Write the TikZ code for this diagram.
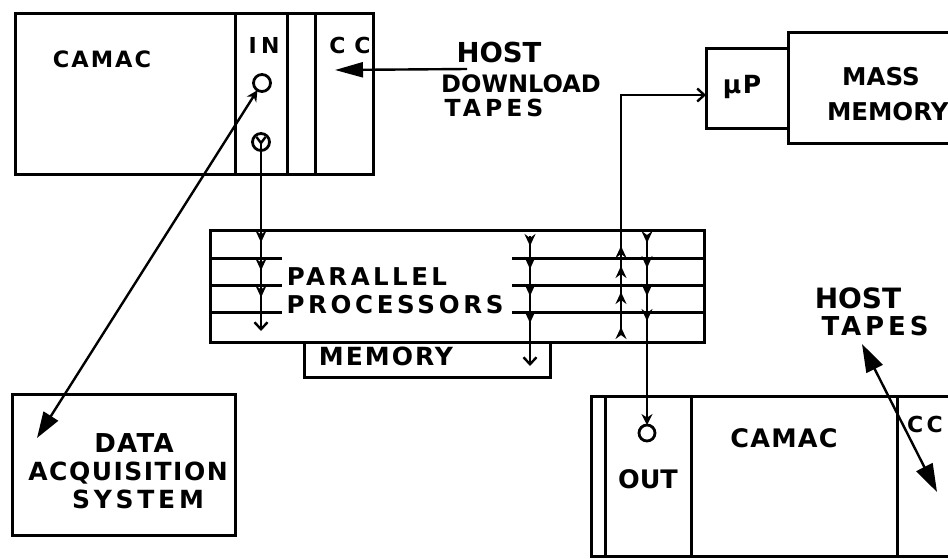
\documentclass[tikz,border=0pt]{standalone}
\usepackage{fontspec}
\setmainfont{DejaVu Sans}
\usetikzlibrary{arrows.meta,decorations.markings}
\newcommand\lab[3]{{\bfseries\fontsize{#1}{#1}\selectfont\addfontfeature{LetterSpace=#2}#3}}
\tikzset{
  box/.style={draw, line width=3pt, inner sep=0pt, outer sep=0pt},
  wall/.style={line width=3pt},
  wire/.style={line width=2.4pt},
  port/.style={circle, draw, line width=2.8pt, minimum size=15pt, inner sep=0pt, outer sep=0pt},
  txt/.style={inner sep=0pt, outer sep=0pt, anchor=base},
  ymid/.tip={Stealth[length=12pt,width=11pt,inset=4pt]},
  vend/.tip={Straight Barb[length=7pt,width=13pt,line width=2.4pt]},
}
\begin{document}
\begin{tikzpicture}[x=1pt,y=-1pt]
\useasboundingbox (0,0) rectangle (948,558);
\clip (0,0) rectangle (948,558);
% ---------- top CAMAC crate
\node[box, minimum width=358pt, minimum height=161pt] (camtop) at (194,93.5) {};
\draw[wall] (235,13) -- (235,174) (287,13) -- (287,174) (315,13) -- (315,174);
\node[txt] (camacA) at (102,67) {\lab{22.5}{9}{CAMAC}};
\node[txt] (inlbl) at (264,53) {\lab{22}{20}{IN}};
\node[txt] (ccA) at (350,53) {\lab{22}{40}{CC}};
\node[port, minimum size=17pt] (incirc) at (262,83) {};
\node[port, minimum size=17pt] (ycirc) at (261,142) {};
\draw[wire] (ycirc.center) ++(-4.5,-5) -- ++(4.5,6) -- ++(4.5,-6);
\draw[wire] (ycirc.center) ++(0,1) -- (ycirc.south);
% ---------- host download
\node[txt] (hostA) at (499,62) {\lab{27.5}{0}{HOST}};
\node[txt] (dlA) at (521,92) {\lab{24}{0}{DOWNLOAD}};
\node[txt] (tapesA) at (494,116) {\lab{23.5}{17}{TAPES}};
\coordinate (hdtail) at (467,69);
\coordinate (hdtip) at (335,70);
\draw[wire, -{Triangle[length=28pt,width=15pt]}] (hdtail) -- (hdtip);
% ---------- microprocessor and mass memory
\node[box, minimum width=82pt, minimum height=80pt] (mup) at (747,88) {};
\node[txt] (muplbl) at (742,93) {\lab{25}{6}{µP}};
\draw[wall] (955,32) -- (788,32) -- (788,143) -- (955,143);
\node[txt] (massL) at (881,85) {\lab{24.5}{0}{MASS}};
\node[txt, anchor=base west] (memL) at (827,120) {\lab{24.5}{0}{MEMORY}};
% ---------- parallel processors
\node[box, minimum width=494pt, minimum height=112pt] (proc) at (457,286) {};
\foreach \yy in {258,285,312} {
  \draw[wall] (210,\yy) -- (282,\yy) (512,\yy) -- (704,\yy);
}
\node[txt] (parL) at (367,285) {\lab{24.5}{14}{PARALLEL}};
\node[txt] (procL) at (395,313) {\lab{24.5}{15}{PROCESSORS}};
\draw[wall] (304,342) -- (304,377) -- (550,377) -- (550,342);
\node[txt] (memB) at (386,365) {\lab{25}{8}{MEMORY}};
% ---------- data acquisition
\node[box, minimum width=223pt, minimum height=141pt] (dac) at (123.5,464.5) {};
\node[txt] (dataL) at (134,452) {\lab{26}{5}{DATA}};
\node[txt] (acqL) at (128,480) {\lab{25}{6}{ACQUISITION}};
\node[txt] (sysL) at (138,508) {\lab{25}{15}{SYSTEM}};
\coordinate (dactip) at (37,438);
\draw[wire, {Stealth[length=11pt,width=11pt]}-{Triangle[length=26pt,width=17pt]}] (incirc) -- (dactip);
% ---------- bottom CAMAC crate
\draw[wall] (955,396) -- (591,396) -- (591,556.5) -- (955,556.5);
\draw[wall] (605,396) -- (605,557) (691,396) -- (691,557) (897,396) -- (897,557);
\node[txt] (outL) at (648,488) {\lab{25.5}{0}{OUT}};
\node[txt] (camacB) at (784,447) {\lab{25.5}{5}{CAMAC}};
\node[txt] (ccB) at (925,432) {\lab{22}{15}{CC}};
\node[port, minimum size=16pt] (ocirc) at (647,433) {};
\node[txt] (hostB) at (858,308) {\lab{28}{0}{HOST}};
\node[txt] (tapesB) at (875,335) {\lab{26}{15}{TAPES}};
\coordinate (ht1) at (862,344);
\coordinate (ht2) at (937,492);
\draw[wire, {Triangle[length=28pt,width=18pt]}-{Triangle[length=28pt,width=18pt]}] (ht1) -- (ht2);
% ---------- vertical data lines with arrowheads
\coordinate (lend) at (261,331);
\draw[wire, -vend, postaction=decorate, decoration={markings,
   mark=at position 92pt with {\arrow{ymid}},
   mark=at position 120pt with {\arrow{ymid}},
   mark=at position 147pt with {\arrow{ymid}}}] (ycirc.south) -- (lend);
\coordinate (mtop) at (530,236);
\coordinate (mend) at (530,366);
\draw[wire, -vend, postaction=decorate, decoration={markings,
   mark=at position 10pt with {\arrow{ymid}},
   mark=at position 33pt with {\arrow{ymid}},
   mark=at position 60pt with {\arrow{ymid}},
   mark=at position 87pt with {\arrow{ymid}}}] (mtop) -- (mend);
\coordinate (ustart) at (621,334);
\draw[wire, -vend, postaction=decorate, decoration={markings,
   mark=at position 7pt with {\arrow{ymid}},
   mark=at position 42pt with {\arrow{ymid}},
   mark=at position 68pt with {\arrow{ymid}},
   mark=at position 88pt with {\arrow{ymid}}}] (ustart) |- ([yshift=-7pt]mup.west);
\coordinate (dtop) at (647,235);
\draw[wire, -{Stealth[length=11pt,width=11pt]}, postaction=decorate, decoration={markings,
   mark=at position 8pt with {\arrow{ymid}},
   mark=at position 33pt with {\arrow{ymid}},
   mark=at position 61pt with {\arrow{ymid}},
   mark=at position 86pt with {\arrow{ymid}}}] (dtop) -- (ocirc.north);
\end{tikzpicture}
\end{document}
